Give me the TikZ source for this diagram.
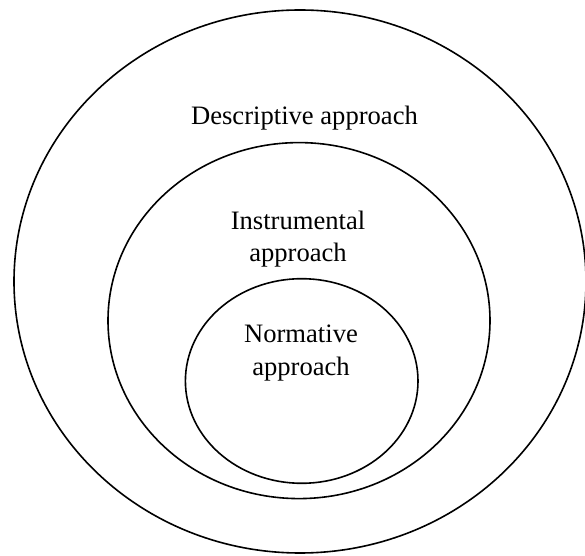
\documentclass[tikz,border=0pt]{standalone}
\usepackage{fontspec}
\setmainfont{Liberation Serif}
\usetikzlibrary{positioning}

\begin{document}
\begin{tikzpicture}[
  x=0.5pt, y=-0.5pt,
  line cap=round, line join=round,
  ring/.style={line width=0.8pt},
  lbl/.style={align=center, inner sep=0pt, font=\fontsize{13.3}{16.25}\selectfont}
]
  \useasboundingbox (0,0) rectangle (585,556);
  % centres of the three nested ellipses
  \coordinate (outer) at (300,281.5);
  \coordinate (middle) at (299,320.6);
  \coordinate (inner) at (301.7,381);
  % ellipses
  \draw[ring] (outer) ellipse [x radius=286, y radius=271.5];
  \draw[ring] (middle) ellipse [x radius=191, y radius=178];
  \draw[ring] (inner) ellipse [x radius=116.3, y radius=102.3];
  % labels
  \node[lbl] (descr) at (304.5,118) {Descriptive approach};
  \node[lbl] (instr) at (298,239) {Instrumental\\approach};
  \node[lbl] (norm) at (301,353) {Normative\\approach};
\end{tikzpicture}
\end{document}
